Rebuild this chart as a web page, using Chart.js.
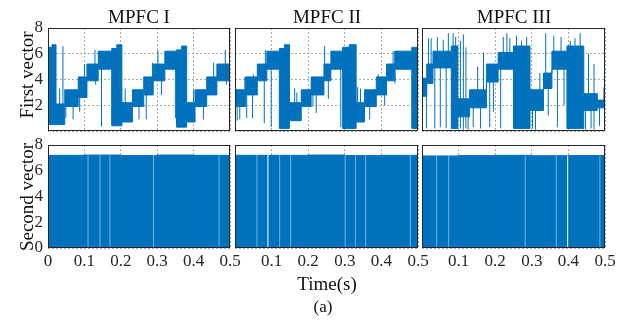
<!DOCTYPE html>
<html>
<head>
<meta charset="utf-8">
<script src="https://cdn.jsdelivr.net/npm/chart.js@4.4.0/dist/chart.umd.min.js"></script>
<style>
  body { margin:0; background:#fff; }
  #fig { position:relative; width:641px; height:329px; font-family:'Liberation Serif','Times New Roman',serif; color:#111; }
  #fig canvas { position:absolute; left:0; top:0; }
  .lbl { position:absolute; white-space:nowrap; line-height:1; transform:translate(-50%,-50%); }
  .rot { transform:translate(-50%,-50%) rotate(-90deg); }
</style>
</head>
<body>
<div id="fig">
  <canvas id="p1" width="641" height="329"></canvas>
  <canvas id="p2" width="641" height="329"></canvas>
  <canvas id="p3" width="641" height="329"></canvas>
  <canvas id="p4" width="641" height="329"></canvas>
  <canvas id="p5" width="641" height="329"></canvas>
  <canvas id="p6" width="641" height="329"></canvas>
  <div class="lbl" style="left:139px;top:16px;font-size:19px">MPFC I</div>
  <div class="lbl" style="left:327px;top:16px;font-size:19px">MPFC II</div>
  <div class="lbl" style="left:514px;top:16px;font-size:19px">MPFC III</div>
  <div class="lbl rot" style="left:26px;top:75px;font-size:19px">First vector</div>
  <div class="lbl rot" style="left:26px;top:197px;font-size:19px">Second vector</div>
  <div class="lbl" style="left:327px;top:283px;font-size:19px">Time(s)</div>
  <div class="lbl" style="left:323px;top:306px;font-size:17px">(a)</div>
</div>
<script>
const W = 641, H = 329;
const BLUE = '#0072BD';
const GRID = '#a8a8a8';
const INK = '#262626';
const Y_AXIS_W = 40, X_AXIS_H = 28;

const xTicks = [0, 0.1, 0.2, 0.3, 0.4, 0.5];
const yTicks = [0, 2, 4, 6, 8];

// ---- first vector: segment edges (s), lower / upper switching level of each segment
const edges1 = [0, 0.011, 0.022, 0.046, 0.083, 0.107, 0.138, 0.175, 0.189, 0.203, 0.232, 0.263, 0.289, 0.321, 0.353, 0.367, 0.381, 0.404, 0.436, 0.464, 0.5];
const low1   = [0.5, 0.5, 0.5, 1.9, 2.6, 3.9, 4.8, 0.4, 0.4, 0.7, 1.9, 2.8, 3.9, 4.8, 0.3, 0.3, 0.7, 1.9, 2.8, 3.9];
const high1  = [6.5, 6.7, 2.1, 3.2, 4.2, 5.2, 6.2, 6.4, 6.7, 2.2, 3.2, 4.2, 5.2, 6.2, 6.3, 6.6, 2.2, 3.2, 4.2, 5.2];
// single switching spikes: [time, low, high]
const spikes1 = [
  [0.032, 0.5, 3.3], [0.041, 0.5, 6.6], [0.049, 1.0, 3.2], [0.069, 0.9, 3.2], [0.087, 1.5, 4.2],
  [0.100, 2.6, 5.2], [0.129, 3.9, 6.3], [0.131, 3.6, 5.2], [0.147, 0.35, 6.2], [0.212, 0.7, 3.3],
  [0.250, 0.9, 3.2], [0.270, 0.9, 4.2], [0.287, 2.8, 5.3], [0.302, 3.9, 6.3], [0.312, 2.8, 5.2],
  [0.350, 1.0, 6.2], [0.400, 0.9, 3.2], [0.427, 0.9, 3.2], [0.455, 2.8, 5.3], [0.487, 3.9, 6.3],
  [0.490, 3.6, 5.2]
];

const edges2 = [0, 0.029, 0.061, 0.087, 0.121, 0.135, 0.149, 0.181, 0.208, 0.243, 0.262, 0.294, 0.312, 0.331, 0.354, 0.386, 0.414, 0.437, 0.483, 0.5];
const low2   = [1.9, 2.8, 3.9, 4.8, 0.2, 0.2, 0.8, 1.9, 2.8, 3.9, 4.8, 0.2, 0.2, 0.7, 1.9, 2.8, 3.9, 4.8, 0.2];
const high2  = [3.2, 4.2, 5.2, 6.2, 6.4, 6.7, 2.2, 3.2, 4.2, 5.2, 6.2, 6.5, 6.7, 2.2, 3.2, 4.2, 5.2, 6.2, 6.5];
const spikes2 = [
  [0.006, 0.8, 3.2], [0.013, 0.9, 3.2], [0.027, 1.9, 4.2], [0.032, 1.0, 4.2], [0.048, 1.0, 4.2],
  [0.050, 2.8, 4.4], [0.080, 0.6, 5.2], [0.083, 3.9, 6.3], [0.099, 0.3, 6.2], [0.163, 0.8, 3.3],
  [0.169, 0.8, 3.0], [0.213, 1.9, 4.2], [0.222, 1.4, 4.2], [0.245, 3.9, 6.6], [0.255, 2.5, 5.2],
  [0.289, 0.3, 6.2], [0.335, 0.7, 3.4], [0.343, 0.7, 3.3], [0.368, 0.9, 3.2], [0.391, 2.8, 4.4],
  [0.409, 2.0, 4.2], [0.432, 3.9, 6.2], [0.437, 3.7, 6.2]
];

const edges3 = [0, 0.013, 0.030, 0.080, 0.098, 0.130, 0.176, 0.208, 0.250, 0.295, 0.332, 0.355, 0.396, 0.442, 0.479, 0.5];
const low3   = [2.7, 3.7, 4.9, 0.2, 1.1, 1.8, 3.8, 4.8, 0.2, 1.6, 3.3, 4.8, 0.2, 1.6, 1.8];
const high3  = [4.1, 5.2, 6.2, 6.6, 2.5, 3.2, 5.2, 6.1, 6.6, 3.2, 4.5, 6.2, 6.6, 2.9, 2.4];
const spikes3 = [
  [0.012, 0.2, 4.0], [0.018, 3.7, 7.2], [0.025, 3.7, 7.2], [0.035, 0.2, 6.2], [0.042, 4.9, 7.3],
  [0.050, 0.3, 6.0], [0.058, 4.9, 7.1], [0.066, 0.2, 6.2], [0.072, 4.9, 7.6], [0.085, 6.6, 7.6],
  [0.092, 6.6, 7.3], [0.105, 0.2, 7.0], [0.113, 0.1, 7.5], [0.120, 0.2, 6.5], [0.126, 0.1, 2.5],
  [0.140, 0.3, 3.2], [0.152, 1.8, 5.0], [0.160, 0.2, 3.2], [0.168, 1.8, 6.1], [0.185, 0.3, 5.2],
  [0.195, 1.5, 5.2], [0.215, 0.2, 6.1], [0.222, 4.8, 7.3], [0.232, 4.8, 7.6], [0.240, 4.8, 7.2],
  [0.258, 6.6, 7.4], [0.272, 6.6, 7.0], [0.286, 6.6, 7.3], [0.302, 0.2, 3.2], [0.310, 0.1, 2.0],
  [0.322, 1.6, 4.5], [0.338, 3.3, 7.6], [0.345, 1.2, 4.5], [0.360, 4.8, 7.4], [0.370, 0.3, 6.2],
  [0.380, 4.8, 7.3], [0.388, 2.0, 6.2], [0.405, 6.6, 7.0], [0.418, 6.6, 7.2], [0.432, 6.6, 7.6],
  [0.447, 0.1, 2.9], [0.455, 1.6, 6.0], [0.462, 0.2, 2.9], [0.470, 0.1, 5.2], [0.485, 0.4, 2.4],
  [0.497, 1.8, 3.4]
];

// ---- second vector: switching between 0 and the top level, with a few thin gaps
const edgesB = [0, 0.1, 0.2, 0.3, 0.4, 0.5];
const topB1 = [7.2, 7.22, 7.18, 7.22, 7.2];
const topB2 = [7.2, 7.2, 7.22, 7.18, 7.2];
const topB3 = [7.15, 7.18, 7.2, 7.17, 7.18];
const faintGaps1 = [0.110, 0.143, 0.170, 0.290, 0.470];
const clearGaps1 = [];
const faintGaps2 = [0.060, 0.122, 0.152, 0.301, 0.329, 0.357, 0.479];
const clearGaps2 = [0.090];
const faintGaps3 = [0.040, 0.073, 0.282, 0.367, 0.486];
const clearGaps3 = [0.398];

function stepPoints(edges, vals) {
  const pts = vals.map((v, i) => ({ x: edges[i], y: v }));
  pts.push({ x: edges[edges.length - 1], y: vals[vals.length - 1] });
  return pts;
}
function spikePoints(list) {
  return list.flatMap(([t, lo, hi]) => [{ x: t, y: lo }, { x: t, y: hi }, { x: t, y: null }]);
}
function gapPoints(ts, top) {
  return ts.flatMap(t => [{ x: t, y: 0 }, { x: t, y: top }, { x: t, y: null }]);
}

function firstSets(edges, low, high, spikes) {
  return [
    { data: spikePoints(spikes), borderColor: BLUE, borderWidth: 1, fill: false, spanGaps: false },
    { data: stepPoints(edges, high), borderColor: BLUE, borderWidth: 1, stepped: true, fill: false },
    { data: stepPoints(edges, low), borderColor: BLUE, borderWidth: 1, stepped: true, fill: '-1', backgroundColor: BLUE }
  ];
}
function secondSets(top, faint, clear) {
  const hi = Math.max(...top);
  return [
    { data: gapPoints(clear, hi), borderColor: '#ffffff', borderWidth: 1, fill: false, spanGaps: false },
    { data: gapPoints(faint, hi), borderColor: 'rgba(255,255,255,0.45)', borderWidth: 1, fill: false, spanGaps: false },
    { data: stepPoints(edgesB, top), borderColor: BLUE, borderWidth: 1, stepped: true, fill: 'origin', backgroundColor: BLUE }
  ];
}

const frame = {
  id: 'frame',
  afterDraw(chart) {
    const { ctx, chartArea: a } = chart;
    ctx.save();
    ctx.strokeStyle = INK;
    ctx.lineWidth = 1;
    ctx.strokeRect(Math.round(a.left) + 0.5, Math.round(a.top) + 0.5, Math.round(a.right - a.left) - 1, Math.round(a.bottom - a.top) - 1);
    ctx.restore();
  }
};

const tickFont = { family: "'Liberation Serif', 'Times New Roman', serif", size: 17 };

function panel(id, area, datasets, opt) {
  return new Chart(document.getElementById(id), {
    type: 'line',
    data: { datasets },
    options: {
      responsive: false, animation: false, devicePixelRatio: 1,
      layout: { padding: { left: area[0] - Y_AXIS_W, top: area[1], right: W - area[2], bottom: H - area[3] - X_AXIS_H } },
      plugins: { legend: { display: false }, tooltip: { enabled: false } },
      elements: { point: { radius: 0 }, line: { tension: 0 } },
      scales: {
        x: {
          type: 'linear', min: 0, max: 0.5,
          afterBuildTicks: s => { s.ticks = xTicks.map(v => ({ value: v })); },
          ticks: {
            display: opt.xLabels, font: tickFont, color: INK, padding: 3, maxRotation: 0, autoSkip: false,
            callback: v => (v === 0 && !opt.x0) ? '' : String(v)
          },
          grid: { color: GRID, drawTicks: false },
          border: { display: false, dash: [2, 2] },
          afterFit: s => { s.height = X_AXIS_H; s.paddingLeft = 0; s.paddingRight = 0; }
        },
        y: {
          type: 'linear', min: 0, max: 8,
          afterBuildTicks: s => { s.ticks = yTicks.map(v => ({ value: v })); },
          ticks: {
            display: opt.yLabels, font: tickFont, color: INK, padding: 5, autoSkip: false,
            callback: v => (v === 0 && !opt.y0) ? '' : String(v)
          },
          grid: { color: GRID, drawTicks: false },
          border: { display: false, dash: [2, 2] },
          afterFit: s => { s.width = Y_AXIS_W; s.paddingTop = 0; s.paddingBottom = 0; }
        }
      }
    },
    plugins: [frame]
  });
}

const cols = [[48, 230], [235, 418], [422, 605]];
const topRow = [28, 131], botRow = [145, 248];

panel('p1', [cols[0][0], topRow[0], cols[0][1], topRow[1]], firstSets(edges1, low1, high1, spikes1), { xLabels: false, yLabels: true, y0: false });
panel('p2', [cols[1][0], topRow[0], cols[1][1], topRow[1]], firstSets(edges2, low2, high2, spikes2), { xLabels: false, yLabels: false });
panel('p3', [cols[2][0], topRow[0], cols[2][1], topRow[1]], firstSets(edges3, low3, high3, spikes3), { xLabels: false, yLabels: false });
panel('p4', [cols[0][0], botRow[0], cols[0][1], botRow[1]], secondSets(topB1, faintGaps1, clearGaps1), { xLabels: true, x0: true, yLabels: true, y0: true });
panel('p5', [cols[1][0], botRow[0], cols[1][1], botRow[1]], secondSets(topB2, faintGaps2, clearGaps2), { xLabels: true, x0: false, yLabels: false });
panel('p6', [cols[2][0], botRow[0], cols[2][1], botRow[1]], secondSets(topB3, faintGaps3, clearGaps3), { xLabels: true, x0: false, yLabels: false });
</script>
</body>
</html>
